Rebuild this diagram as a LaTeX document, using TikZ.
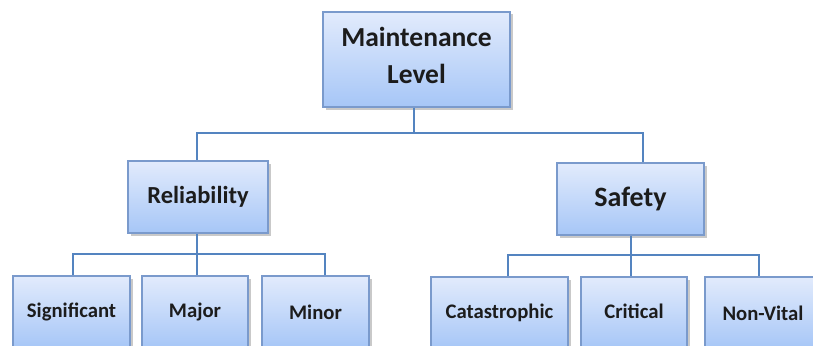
\documentclass[tikz,border=0pt]{standalone}
\usepackage{fontspec}
\setmainfont{Carlito}
\usetikzlibrary{shadows}
\definecolor{connc}{RGB}{84,132,192}
\definecolor{boxtop}{RGB}{226,235,252}
\definecolor{boxbot}{RGB}{166,198,247}
\definecolor{boxline}{RGB}{122,154,204}
\definecolor{txt}{RGB}{28,28,28}
\tikzset{
  orgbox/.style={draw=boxline, line width=1.2pt, top color=boxtop, bottom color=boxbot,
    text=txt, inner sep=0pt, align=center,
    drop shadow={shadow xshift=2.5pt, shadow yshift=-2.5pt, opacity=0.35, fill=black!60}},
  conn/.style={draw=connc, line width=1.4pt},
  topfont/.style={font=\fontsize{27.5}{37}\selectfont\bfseries},
  saffont/.style={font=\fontsize{28}{34}\selectfont\bfseries},
  midfont/.style={font=\fontsize{24.5}{28}\selectfont\bfseries},
  smallfont/.style={font=\fontsize{20.7}{24}\selectfont\bfseries}
}
\begin{document}
\begin{tikzpicture}[x=1pt,y=-1pt]
\useasboundingbox (0,0) rectangle (813,345);
\clip (0,0) rectangle (813,345);
\fill[white] (0,0) rectangle (813,345);
% nodes
\node[orgbox,topfont,minimum width=187pt,minimum height=95pt] (top) at (416.5,59.5) {Maintenance\\Level\rule[-8pt]{0pt}{0pt}};
\node[orgbox,midfont,minimum width=140pt,minimum height=72pt] (rel) at (198,197) {Reliability};
\node[orgbox,saffont,minimum width=147pt,minimum height=72pt] (saf) at (630.5,199) {Safety};
\node[orgbox,smallfont,minimum width=117pt,minimum height=72pt] (sig) at (71.5,312) {Significant};
\node[orgbox,smallfont,minimum width=106pt,minimum height=72pt] (maj) at (195,312) {Major};
\node[orgbox,smallfont,minimum width=107pt,minimum height=72pt] (min) at (315.5,312) {Minor};
\node[orgbox,smallfont,minimum width=137pt,minimum height=72pt] (cat) at (499.5,313) {Catastrophic};
\node[orgbox,smallfont,minimum width=106pt,minimum height=72pt,text depth=4pt] (cri) at (634,313) {Critical};
\node[orgbox,smallfont,minimum width=116pt,minimum height=72pt] (non) at (763,313) {Non-Vital};
% junction coordinates
\coordinate (h1) at (414,133);
\coordinate (s1) at (643,0);
\coordinate (h2) at (197,254);
\coordinate (a1) at (73,0);
\coordinate (a3) at (325,0);
\coordinate (h3) at (631,255);
\coordinate (b1) at (508,0);
\coordinate (b3) at (759,0);
% connectors
\draw[conn] (top.south -| h1) -- (h1);
\draw[conn] (h1) -| (rel.north -| h2);
\draw[conn] (h1) -| (s1 |- saf.north);
\draw[conn] (rel.south -| h2) -- (h2);
\draw[conn] (h2) -| (a1 |- sig.north);
\draw[conn] (h2) -| (a3 |- min.north);
\draw[conn] (h2) -- (h2 |- maj.north);
\draw[conn] (saf.south -| h3) -- (h3);
\draw[conn] (h3) -| (b1 |- cat.north);
\draw[conn] (h3) -| (b3 |- non.north);
\draw[conn] (h3) -- (h3 |- cri.north);
\end{tikzpicture}
\end{document}
